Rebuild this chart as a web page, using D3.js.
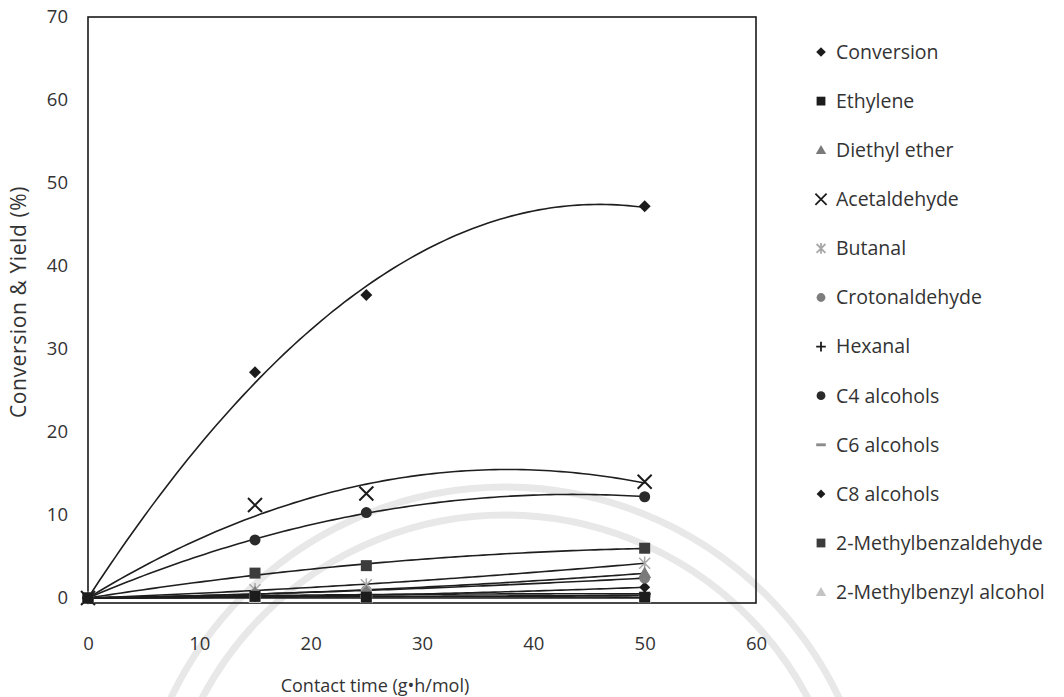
<!DOCTYPE html>
<html>
<head>
<meta charset="utf-8">
<script src="https://cdn.jsdelivr.net/npm/d3@7"></script>
<style>
  body { margin: 0; background: #fff; }
  text { font-family: "Open Sans", "Noto Sans", sans-serif; fill: #333; }
</style>
</head>
<body>
<svg id="chart" width="1064" height="697"></svg>
<script>
// Contact time (g·h/mol) at which samples were taken
const contactTime = [0, 15, 25, 50];

// Conversion and product yields (%)
const conversion          = [0, 27.2, 36.5, 47.2];
const ethylene            = [0, 0.2, 0.1, 0.1];
const diethylEther        = [0, 0.7, 0.8, 3.0];
const acetaldehyde        = [0, 11.2, 12.6, 14.0];
const butanal             = [0, 1.0, 1.6, 4.2];
const crotonaldehyde      = [0, 0.5, 0.9, 2.4];
const hexanal             = [0, 0.3, 0.4, 0.5];
const c4Alcohols          = [0, 7.0, 10.3, 12.2];
const c6Alcohols          = [0, 0.1, 0.2, 0.3];
const c8Alcohols          = [0, 0.2, 0.3, 1.3];
const methylbenzaldehyde  = [0, 3.0, 3.9, 6.0];
const methylbenzylAlcohol = [0, 0.0, 0.0, 0.0];

const seriesNames = ["Conversion", "Ethylene", "Diethyl ether", "Acetaldehyde", "Butanal",
  "Crotonaldehyde", "Hexanal", "C4 alcohols", "C6 alcohols", "C8 alcohols",
  "2-Methylbenzaldehyde", "2-Methylbenzyl alcohol"];
const seriesValues = [conversion, ethylene, diethylEther, acetaldehyde, butanal,
  crotonaldehyde, hexanal, c4Alcohols, c6Alcohols, c8Alcohols,
  methylbenzaldehyde, methylbenzylAlcohol];

const xTickValues = [0, 10, 20, 30, 40, 50, 60];
const yTickValues = [0, 10, 20, 30, 40, 50, 60, 70];

// marker look for each series: shape, fill, stroke, radius
const markerStyles = [
  { shape: "diamond",  fill: "#1c1c1c", stroke: "none",    r: 6 },
  { shape: "square",   fill: "#1c1c1c", stroke: "none",    r: 5.5 },
  { shape: "triangle", fill: "#7a7a7a", stroke: "none",    r: 6.5 },
  { shape: "x",        fill: "none",    stroke: "#1c1c1c", r: 7 },
  { shape: "asterisk", fill: "none",    stroke: "#a8a8a8", r: 5.5 },
  { shape: "circle",   fill: "#7d7d7d", stroke: "none",    r: 5.5 },
  { shape: "plus",     fill: "none",    stroke: "#1c1c1c", r: 6 },
  { shape: "circle",   fill: "#2a2a2a", stroke: "none",    r: 5.5 },
  { shape: "dash",     fill: "#8c8c8c", stroke: "none",    r: 6 },
  { shape: "diamond",  fill: "#1c1c1c", stroke: "none",    r: 5.5 },
  { shape: "square",   fill: "#3c3c3c", stroke: "none",    r: 5.5 },
  { shape: "triangle", fill: "#c4c4c4", stroke: "none",    r: 6.5 }
];

function markerPath(shape, r) {
  switch (shape) {
    case "diamond":  return `M0,${-r}L${r},0L0,${r}L${-r},0Z`;
    case "square":   return `M${-r},${-r}H${r}V${r}H${-r}Z`;
    case "triangle": return `M0,${-r}L${r},${r * 0.75}L${-r},${r * 0.75}Z`;
    case "x":        return `M${-r},${-r}L${r},${r}M${r},${-r}L${-r},${r}`;
    case "asterisk": return `M${-r},${-r}L${r},${r}M${r},${-r}L${-r},${r}M0,${-r * 1.2}V${r * 1.2}`;
    case "plus":     return `M${-r},0H${r}M0,${-r}V${r}`;
    case "dash":     return `M${-r},${-r * 0.3}H${r}V${r * 0.3}H${-r}Z`;
    case "circle":   return d3.symbol(d3.symbolCircle, Math.PI * r * r)();
  }
}

// least-squares quadratic through the origin: y = a·x + b·x²
function quadFit(xs, ys) {
  let s2 = 0, s3 = 0, s4 = 0, sxy = 0, sx2y = 0;
  xs.forEach((x, i) => {
    const y = ys[i];
    s2 += x * x; s3 += x * x * x; s4 += x * x * x * x;
    sxy += x * y; sx2y += x * x * y;
  });
  const det = s2 * s4 - s3 * s3;
  const a = (sxy * s4 - s3 * sx2y) / det;
  const b = (s2 * sx2y - s3 * sxy) / det;
  return x => a * x + b * x * x;
}

const svg = d3.select("#chart");

// faint seal rings in the background
const seal = svg.append("g").attr("fill", "none").attr("stroke", "#e8e8e8").attr("stroke-width", 7);
[370, 342].forEach(rad => {
  seal.append("circle").attr("cx", 505).attr("cy", 857).attr("r", rad);
});

const x = d3.scaleLinear().domain([0, 60]).range([88, 756]);
const y = d3.scaleLinear().domain([-0.6, 70]).range([603, 17]);

// plot frame
svg.append("rect")
  .attr("x", x(0)).attr("y", y(70))
  .attr("width", x(60) - x(0)).attr("height", y(-0.6) - y(70))
  .attr("fill", "none").attr("stroke", "#1a1a1a").attr("stroke-width", 1.6);

// axes: labels only, no tick marks
const xAxis = svg.append("g").attr("transform", `translate(0,${y(-0.6) + 22})`)
  .call(d3.axisBottom(x).tickValues(xTickValues).tickSize(0).tickPadding(12));
xAxis.select(".domain").remove();
xAxis.selectAll("text").style("font-size", "18.5px").style("font-family", '"Open Sans", sans-serif').attr("fill", "#3a3a3a");

const yAxis = svg.append("g").attr("transform", `translate(${x(0) - 20},0)`)
  .call(d3.axisLeft(y).tickValues(yTickValues).tickSize(0).tickPadding(0));
yAxis.select(".domain").remove();
yAxis.selectAll("text").style("font-size", "18.5px").style("font-family", '"Open Sans", sans-serif').attr("fill", "#3a3a3a");

// axis titles
svg.append("text")
  .attr("x", 375).attr("y", 692)
  .attr("text-anchor", "middle")
  .style("font-size", "18px")
  .text("Contact time (g•h/mol)");

svg.append("text")
  .attr("transform", "translate(26,302) rotate(-90)")
  .attr("text-anchor", "middle")
  .style("font-size", "21px")
  .style("letter-spacing", "0.6px")
  .text("Conversion & Yield (%)");

// trend curves
const fineX = d3.range(0, 50.01, 0.5);
const curve = d3.line().x(d => x(d[0])).y(d => y(d[1]));
const plot = svg.append("g");
seriesValues.forEach((vals, i) => {
  const f = quadFit(contactTime, vals);
  plot.append("path")
    .attr("d", curve(fineX.map(t => [t, f(t)])))
    .attr("fill", "none")
    .attr("stroke", "#1e1e1e")
    .attr("stroke-width", 1.6);
});

// data markers (drawn last series first so conversion stays on top)
seriesValues.slice().reverse().forEach((vals, ri) => {
  const i = seriesValues.length - 1 - ri;
  const st = markerStyles[i];
  plot.selectAll(null)
    .data(vals.map((v, k) => [contactTime[k], v]))
    .enter().append("path")
    .attr("transform", d => `translate(${x(d[0])},${y(d[1])})`)
    .attr("d", markerPath(st.shape, st.r))
    .attr("fill", st.fill)
    .attr("stroke", st.stroke)
    .attr("stroke-width", st.shape === "asterisk" ? 1.5 : 2);
});

// legend
const legend = svg.append("g").attr("transform", "translate(821,52)");
seriesNames.forEach((name, i) => {
  const st = markerStyles[i];
  const row = legend.append("g").attr("transform", `translate(0,${i * 49.1})`);
  row.append("path")
    .attr("d", markerPath(st.shape, st.r * 0.8))
    .attr("fill", st.fill)
    .attr("stroke", st.stroke)
    .attr("stroke-width", 1.8);
  row.append("text")
    .attr("x", 15).attr("y", 0).attr("dy", "0.35em")
    .style("font-size", "19.5px")
    .text(name);
});
</script>
</body>
</html>
